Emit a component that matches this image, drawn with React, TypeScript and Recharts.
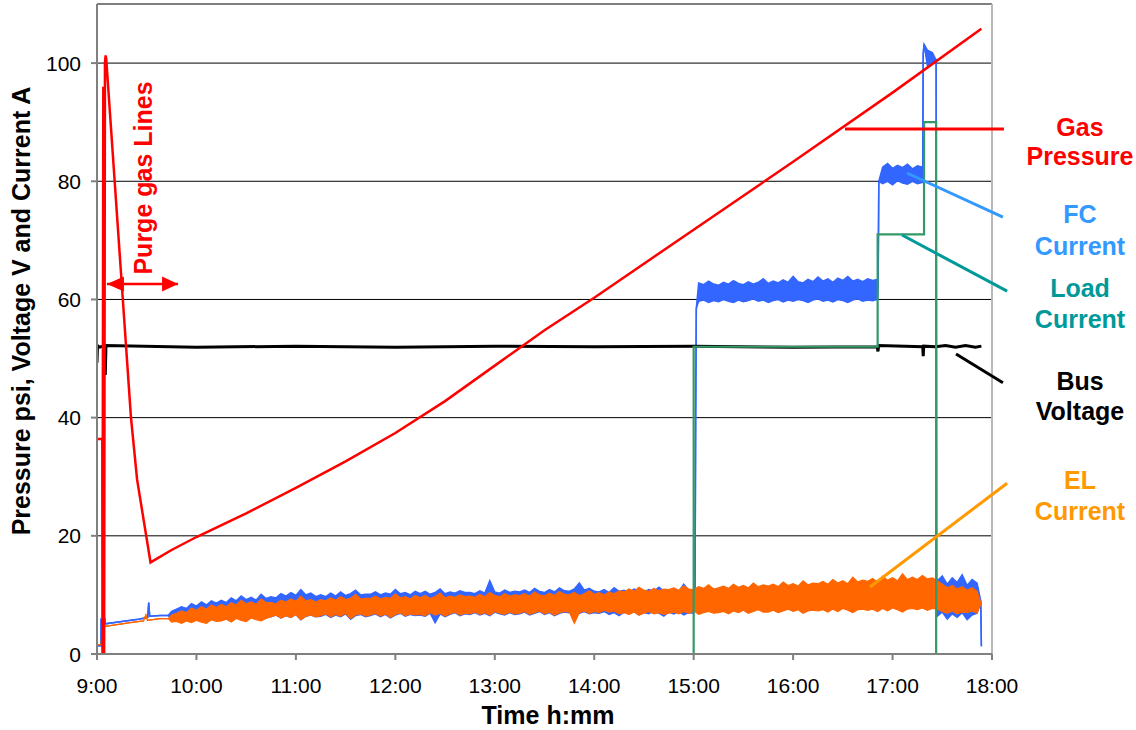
import React from 'react';
import {
  ComposedChart,
  Line,
  Area,
  XAxis,
  YAxis,
  CartesianGrid,
  ReferenceLine,
  ReferenceDot,
} from 'recharts';

const FONT = '"Liberation Sans", Arial, Helvetica, sans-serif';

// time axis: minutes after 9:00
const xTicks = [0, 60, 120, 180, 240, 300, 360, 420, 480, 540];
const yTicks = [0, 20, 40, 60, 80, 100];

// Gas pressure (psi)
const gasT = [0, 3.2, 3.3, 3.8, 4.3, 4.8, 5.2, 5.6, 20.5, 24.2, 32.3, 45, 60, 90, 120, 150, 180, 210, 240, 270, 300, 360, 420, 480, 533.6];
const gasV = [36.4, 36.4, 0, 96, 0, 100, 101.3, 100.6, 40, 29.5, 15.5, 17.6, 19.8, 23.8, 28.1, 32.6, 37.4, 42.8, 48.8, 54.8, 60.3, 71.8, 83.3, 95.0, 105.8];

// Bus voltage (V)
const busT = [0, 0.3, 0.8, 4.7, 5.0, 5.4, 60, 120, 180, 240, 300, 360, 420, 470.8, 471.2, 471.6, 498.2, 498.5, 498.8, 506, 512, 518, 524, 530, 533.6];
const busV = [49.3, 52.3, 51.9, 52.1, 47.2, 52.2, 51.9, 52.1, 51.9, 52.1, 52.0, 52.1, 51.9, 52.0, 51.2, 52.2, 52.0, 50.4, 52.1, 52.0, 52.2, 51.9, 52.2, 51.9, 52.1];

// Load current (A)
const loadT = [0, 360, 360, 471, 471, 499, 499, 506.3, 506.3, 533.6];
const loadV = [0, 0, 52, 52, 71, 71, 90, 90, 0, 0];

// Noisy currents: envelope (low / high) sampled every 3 minutes from 9:45
const GRID_START = 45;
const GRID_STEP = 3;

const fcHi = [
  // 9:45 - 15:00
  7.2, 7.6, 8.0, 7.7, 8.5, 8.1, 8.8, 8.3, 9.0, 8.6,
  9.1, 8.7, 9.5, 9.0, 9.8, 9.2, 9.6, 9.1, 10.1, 9.4,
  9.7, 9.5, 10.2, 9.8, 10.4, 9.9, 10.9, 10.0, 10.3, 9.7,
  10.0, 9.7, 10.3, 9.8, 10.5, 9.9, 10.2, 10.8, 10.0, 10.1,
  10.1, 10.5, 10.0, 10.3, 10.1, 10.9, 10.2, 10.4, 10.0, 10.6,
  10.2, 10.6, 10.1, 10.4, 11.0, 10.2, 10.5, 10.3, 10.7, 10.4,
  10.4, 10.2, 10.7, 10.3, 12.4, 10.5, 10.3, 10.8, 10.4, 10.6,
  10.5, 10.8, 10.4, 11.1, 10.6, 10.4, 10.9, 10.5, 11.2, 10.7,
  10.6, 11.0, 12.0, 10.8, 11.1, 10.6,
  10.5, 10.9, 10.4, 11.2, 10.6, 10.8, 10.4, 11.0, 10.7, 10.5,
  10.9, 10.6, 11.3, 10.7, 10.5, 11.0, 10.6, 11.8, 10.8, 10.7,
  // 15:03 - 16:51
  62.8, 62.5, 63.1, 62.6, 62.4, 62.9, 62.6, 63.2, 62.7, 62.5,
  63.0, 62.6, 62.9, 63.5, 62.7, 63.1, 62.8, 63.3, 62.9, 63.9,
  63.0, 62.8, 63.4, 63.0, 63.8, 63.1, 63.5, 62.9, 63.6, 63.2,
  63.9, 63.1, 63.4, 63.0, 63.5, 63.2, 63.4,
  // 16:54 - 17:18
  82.4, 83.0, 82.2, 82.7, 82.3, 82.9, 82.1, 82.6, 82.4,
  // 17:21 - 17:24
  102.2, 101.8,
  // 17:27 - 17:51
  12.4, 13.2, 11.8, 12.9, 12.1, 13.4, 11.6, 12.6, 12.0,
];
const fcLo = [
  5.8, 5.9, 5.7, 6.0, 5.8, 6.1, 5.9, 5.7, 6.2, 6.0,
  6.0, 6.3, 5.8, 6.4, 6.1, 5.9, 6.5, 6.2, 6.0, 6.4,
  6.3, 6.6, 6.1, 6.5, 6.2, 6.7, 5.8, 6.4, 6.6, 6.3,
  6.4, 6.7, 6.2, 6.6, 6.3, 6.8, 5.9, 6.5, 6.7, 6.3,
  6.5, 6.8, 6.3, 6.7, 6.1, 6.6, 6.9, 6.4, 6.7, 6.5,
  6.6, 6.4, 6.9, 5.3, 6.8, 6.3, 6.7, 7.0, 6.5, 6.8,
  6.7, 7.0, 6.6, 6.9, 6.5, 7.1, 6.8, 6.6, 7.0, 6.7,
  6.8, 7.1, 6.6, 6.9, 7.2, 6.7, 7.0, 6.5, 6.9, 7.1,
  7.0, 6.6, 6.9, 7.2, 6.8, 7.0,
  6.9, 7.2, 6.7, 7.0, 6.5, 7.1, 6.8, 7.2, 6.6, 7.0,
  6.8, 7.3, 6.9, 6.4, 7.1, 6.8, 7.2, 6.6, 7.0, 6.9,
  59.7, 59.9, 59.5, 59.8, 59.6, 60.0, 59.7, 59.5, 59.9, 59.6,
  59.8, 60.1, 59.7, 59.9, 59.5, 59.8, 60.0, 59.6, 59.9, 59.7,
  60.0, 59.8, 59.5, 59.9, 60.1, 59.7, 59.9, 59.6, 60.0, 59.8,
  59.5, 59.9, 60.1, 59.7, 59.9, 59.8, 60.0,
  79.6, 80.0, 79.4, 80.1, 79.7, 79.5, 80.0, 79.6, 79.8,
  99.6, 99.9,
  6.4, 7.1, 5.9, 6.8, 6.2, 7.0, 5.8, 6.6, 6.9,
];
// single-valued points of FC current (start-up and step changes)
const fcSteps: [number, number][] = [
  [0, 1.4], [2.3, 1.4], [2.5, 5.8], [4.0, 5.4], [4.6, 6.1], [5.0, 5.1], [15, 5.5], [25, 5.9],
  [30.6, 6.2], [31.2, 8.7], [31.8, 6.4], [38, 6.5], [43, 6.5],
  [360.8, 8.6], [361.2, 39.6], [361.6, 58.5], [471.3, 62], [471.7, 80],
  [498.2, 82], [498.5, 101.5], [499.0, 103.2], [506.3, 100.5], [506.6, 9.5], [533.2, 9.0], [533.6, 1.3],
];

const elHi = [
  6.6, 6.9, 7.3, 7.0, 7.8, 7.4, 8.0, 7.6, 8.3, 7.9,
  8.4, 8.0, 8.7, 8.3, 9.1, 8.5, 8.8, 8.4, 9.3, 8.7,
  8.7, 8.5, 9.1, 8.8, 9.3, 8.9, 9.8, 9.0, 9.2, 8.8,
  9.2, 9.0, 9.5, 9.1, 9.7, 9.2, 9.4, 10.1, 9.3, 9.4,
  9.4, 9.8, 9.3, 9.6, 9.4, 10.2, 9.5, 9.7, 9.3, 9.9,
  9.5, 9.9, 9.4, 9.7, 10.3, 9.5, 9.8, 9.6, 10.0, 9.7,
  9.8, 9.6, 10.1, 9.7, 10.4, 9.9, 9.7, 10.2, 9.8, 10.0,
  9.9, 10.2, 9.8, 10.5, 10.0, 9.8, 10.3, 9.9, 10.6, 10.1,
  10.0, 10.4, 9.9, 10.2, 10.7, 10.1, 10.4, 10.0, 10.5, 10.2,
  10.7, 10.5, 11.0, 10.6, 11.3, 10.8, 10.6, 11.1, 10.7, 11.0,
  10.9, 11.2, 10.8, 11.5, 11.0, 10.9, 11.4, 11.1, 11.7, 11.0,
  11.2, 11.5, 11.1, 11.8, 11.3, 11.6, 11.2, 12.0, 11.4, 11.7,
  11.5, 11.8, 11.4, 12.2, 11.6, 11.9, 11.5, 12.4, 11.7, 12.0,
  11.9, 12.3, 11.8, 12.6, 12.0, 12.4, 11.9, 13.0, 12.2, 12.5,
  12.3, 12.8, 12.1, 13.2, 12.5, 12.9, 12.4, 13.6, 12.6, 13.0,
  12.6, 13.3, 12.7, 12.9, 12.4, 11.8, 11.2, 11.6, 11.0, 11.4,
  10.8, 11.2, 10.6,
];
const elLo = [
  5.4, 5.5, 5.2, 5.6, 5.3, 5.7, 5.4, 5.2, 5.8, 5.5,
  5.6, 5.9, 5.4, 6.0, 5.7, 5.5, 6.1, 5.8, 5.6, 6.0,
  6.3, 6.6, 6.1, 6.5, 6.2, 6.7, 5.8, 6.4, 6.6, 6.3,
  6.5, 6.8, 6.3, 6.7, 6.4, 6.9, 6.0, 6.6, 6.8, 6.4,
  6.6, 6.9, 6.4, 6.8, 6.2, 6.7, 7.0, 6.5, 6.8, 6.6,
  6.7, 6.5, 7.0, 6.6, 6.9, 6.4, 6.8, 7.1, 6.6, 6.9,
  6.8, 7.1, 6.7, 7.0, 6.6, 7.2, 6.9, 6.7, 7.1, 6.8,
  6.9, 7.2, 6.7, 7.0, 7.3, 6.8, 7.1, 6.6, 7.0, 7.2,
  7.1, 5.2, 7.0, 7.3, 6.9, 7.2, 7.0, 7.4, 7.1, 7.3,
  6.8, 7.0, 6.7, 7.1, 6.6, 6.9, 7.2, 6.8, 7.0, 6.7,
  6.9, 7.1, 6.8, 7.2, 6.9, 7.3, 6.7, 7.0, 7.2, 6.9,
  7.0, 7.2, 6.8, 7.3, 7.0, 7.4, 6.9, 7.2, 7.5, 7.1,
  7.1, 7.4, 7.0, 7.3, 7.6, 7.2, 7.5, 6.9, 7.3, 7.4,
  7.3, 7.5, 7.1, 7.6, 7.2, 7.7, 7.4, 7.0, 7.5, 7.6,
  7.4, 7.6, 7.2, 7.7, 7.3, 7.8, 7.5, 7.1, 7.6, 7.7,
  7.5, 7.8, 7.4, 7.7, 7.6, 7.2, 6.9, 7.3, 6.8, 7.1,
  7.0, 7.3, 6.9,
];
const elSteps: [number, number][] = [
  [0, 1.6], [2.6, 1.6], [3.0, 4.6], [10, 4.9], [20, 5.3], [28, 5.6], [29.5, 6.6], [30.5, 5.7], [38, 6.0], [43, 6.0],
  [533.4, 8.5],
];

const toLine = (ts: number[], vs: number[]) => ts.map((t, i) => ({ t, v: vs[i] }));
const toBand = (lo: number[], hi: number[], steps: [number, number][]) => {
  const pts = lo.map((l, i) => ({ t: GRID_START + GRID_STEP * i, r: [l, hi[i]] }));
  steps.forEach(([t, v]) => pts.push({ t, r: [v, v] }));
  return pts.sort((a, b) => a.t - b.t);
};

const gasData = toLine(gasT, gasV);
const busData = toLine(busT, busV);
const loadData = toLine(loadT, loadV);
const fcData = toBand(fcLo, fcHi, fcSteps);
const elData = toBand(elLo, elHi, elSteps);

const fmtTime = (t: number) => `${9 + Math.round(t / 60)}:00`;

const XTick = (props: any) => {
  const { x, payload } = props;
  return (
    <text x={x} y={693} textAnchor="middle" fontSize={21} fontFamily={FONT} fill="#000">
      {fmtTime(payload.value)}
    </text>
  );
};

const YTick = (props: any) => {
  const { y, payload } = props;
  return (
    <text x={81} y={y + 7.5} textAnchor="end" fontSize={21} fontFamily={FONT} fill="#000">
      {payload.value}
    </text>
  );
};

const leftHead = (p: any) => (
  <path d={`M${p.cx},${p.cy} l17,-7.5 l0,15 z`} fill="#FF0000" />
);
const rightHead = (p: any) => (
  <path d={`M${p.cx},${p.cy} l-16,-7.5 l0,15 z`} fill="#FF0000" />
);

const labels: { lines: string[]; color: string; ys: number[] }[] = [
  { lines: ['Gas', 'Pressure'], color: '#FF0000', ys: [136, 165] },
  { lines: ['FC', 'Current'], color: '#3399FF', ys: [223, 255] },
  { lines: ['Load', 'Current'], color: '#009999', ys: [297, 328] },
  { lines: ['Bus', 'Voltage'], color: '#000000', ys: [390, 420] },
  { lines: ['EL', 'Current'], color: '#FF9900', ys: [489, 520] },
];

export default function App() {
  return (
    <div style={{ position: 'absolute', left: 0, top: 0, width: 1136, height: 730, background: '#fff' }}>
      <ComposedChart width={1136} height={730} margin={{ top: 4, right: 144, bottom: 0, left: 0 }}>
        <CartesianGrid horizontal vertical={false} stroke="#000" strokeWidth={1} />
        <XAxis
          type="number"
          dataKey="t"
          domain={[0, 540]}
          ticks={xTicks}
          allowDataOverflow
          height={76}
          stroke="#808080"
          strokeWidth={2}
          tickSize={6}
          tickLine={{ stroke: '#808080', strokeWidth: 2 }}
          tick={<XTick />}
          interval={0}
        />
        <YAxis
          type="number"
          domain={[0, 110]}
          ticks={yTicks}
          allowDataOverflow
          width={97}
          stroke="#808080"
          strokeWidth={2}
          tickSize={6}
          tickLine={{ stroke: '#808080', strokeWidth: 2 }}
          tick={<YTick />}
          interval={0}
        />
        <ReferenceLine x={540} stroke="#b8b8b8" strokeWidth={2} />
        <Line data={busData} dataKey="v" type="linear" stroke="#000" strokeWidth={3} dot={false} activeDot={false} isAnimationActive={false} />
        <Area data={fcData} dataKey="r" type="linear" stroke="#3366FF" strokeWidth={1.5} fill="#3366FF" fillOpacity={1} dot={false} activeDot={false} isAnimationActive={false} />
        <Area data={elData} dataKey="r" type="linear" stroke="#FF6600" strokeWidth={1.2} fill="#FF6600" fillOpacity={1} dot={false} activeDot={false} isAnimationActive={false} />
        <Line data={loadData} dataKey="v" type="linear" stroke="#339966" strokeWidth={2.2} dot={false} activeDot={false} isAnimationActive={false} />
        <Line data={gasData} dataKey="v" type="linear" stroke="#FF0000" strokeWidth={2.5} dot={false} activeDot={false} isAnimationActive={false} />

        <ReferenceLine segment={[{ x: 451.3, y: 88.85 }, { x: 547.2, y: 88.85 }]} stroke="#FF0000" strokeWidth={3} ifOverflow="visible" />
        <ReferenceLine segment={[{ x: 488.7, y: 81.4 }, { x: 546.6, y: 73.95 }]} stroke="#3399FF" strokeWidth={3} ifOverflow="visible" />
        <ReferenceLine segment={[{ x: 485.7, y: 70.9 }, { x: 549.1, y: 61.4 }]} stroke="#009999" strokeWidth={3} ifOverflow="visible" />
        <ReferenceLine segment={[{ x: 518.3, y: 50.77 }, { x: 546.6, y: 45.9 }]} stroke="#000000" strokeWidth={3} ifOverflow="visible" />
        <ReferenceLine segment={[{ x: 466.4, y: 11.34 }, { x: 549.1, y: 28.9 }]} stroke="#FF9900" strokeWidth={3} ifOverflow="visible" />

        <ReferenceLine segment={[{ x: 6, y: 62.6 }, { x: 48.9, y: 62.6 }]} stroke="#FF0000" strokeWidth={2.5} ifOverflow="visible" />
        <ReferenceDot x={6} y={62.6} r={0} ifOverflow="visible" shape={leftHead} />
        <ReferenceDot x={48.9} y={62.6} r={0} ifOverflow="visible" shape={rightHead} />
      </ComposedChart>
      <svg
        width={1136}
        height={730}
        style={{ position: 'absolute', left: 0, top: 0, pointerEvents: 'none' }}
      >
        <g fontFamily={FONT} fontWeight="bold" fontSize={25} textAnchor="middle">
          {labels.map((l) =>
            l.lines.map((s, i) => (
              <text key={l.color + s} x={1080} y={l.ys[i]} fill={l.color}>
                {s}
              </text>
            ))
          )}
          <text x={152} y={178} fill="#FF0000" transform="rotate(-90 152 178)">
            Purge gas Lines
          </text>
          <text x={30} y={311} fill="#000" transform="rotate(-90 30 311)">
            Pressure psi, Voltage V and Current A
          </text>
          <text x={548} y={724} fill="#000">
            Time h:mm
          </text>
        </g>
      </svg>
    </div>
  );
}
